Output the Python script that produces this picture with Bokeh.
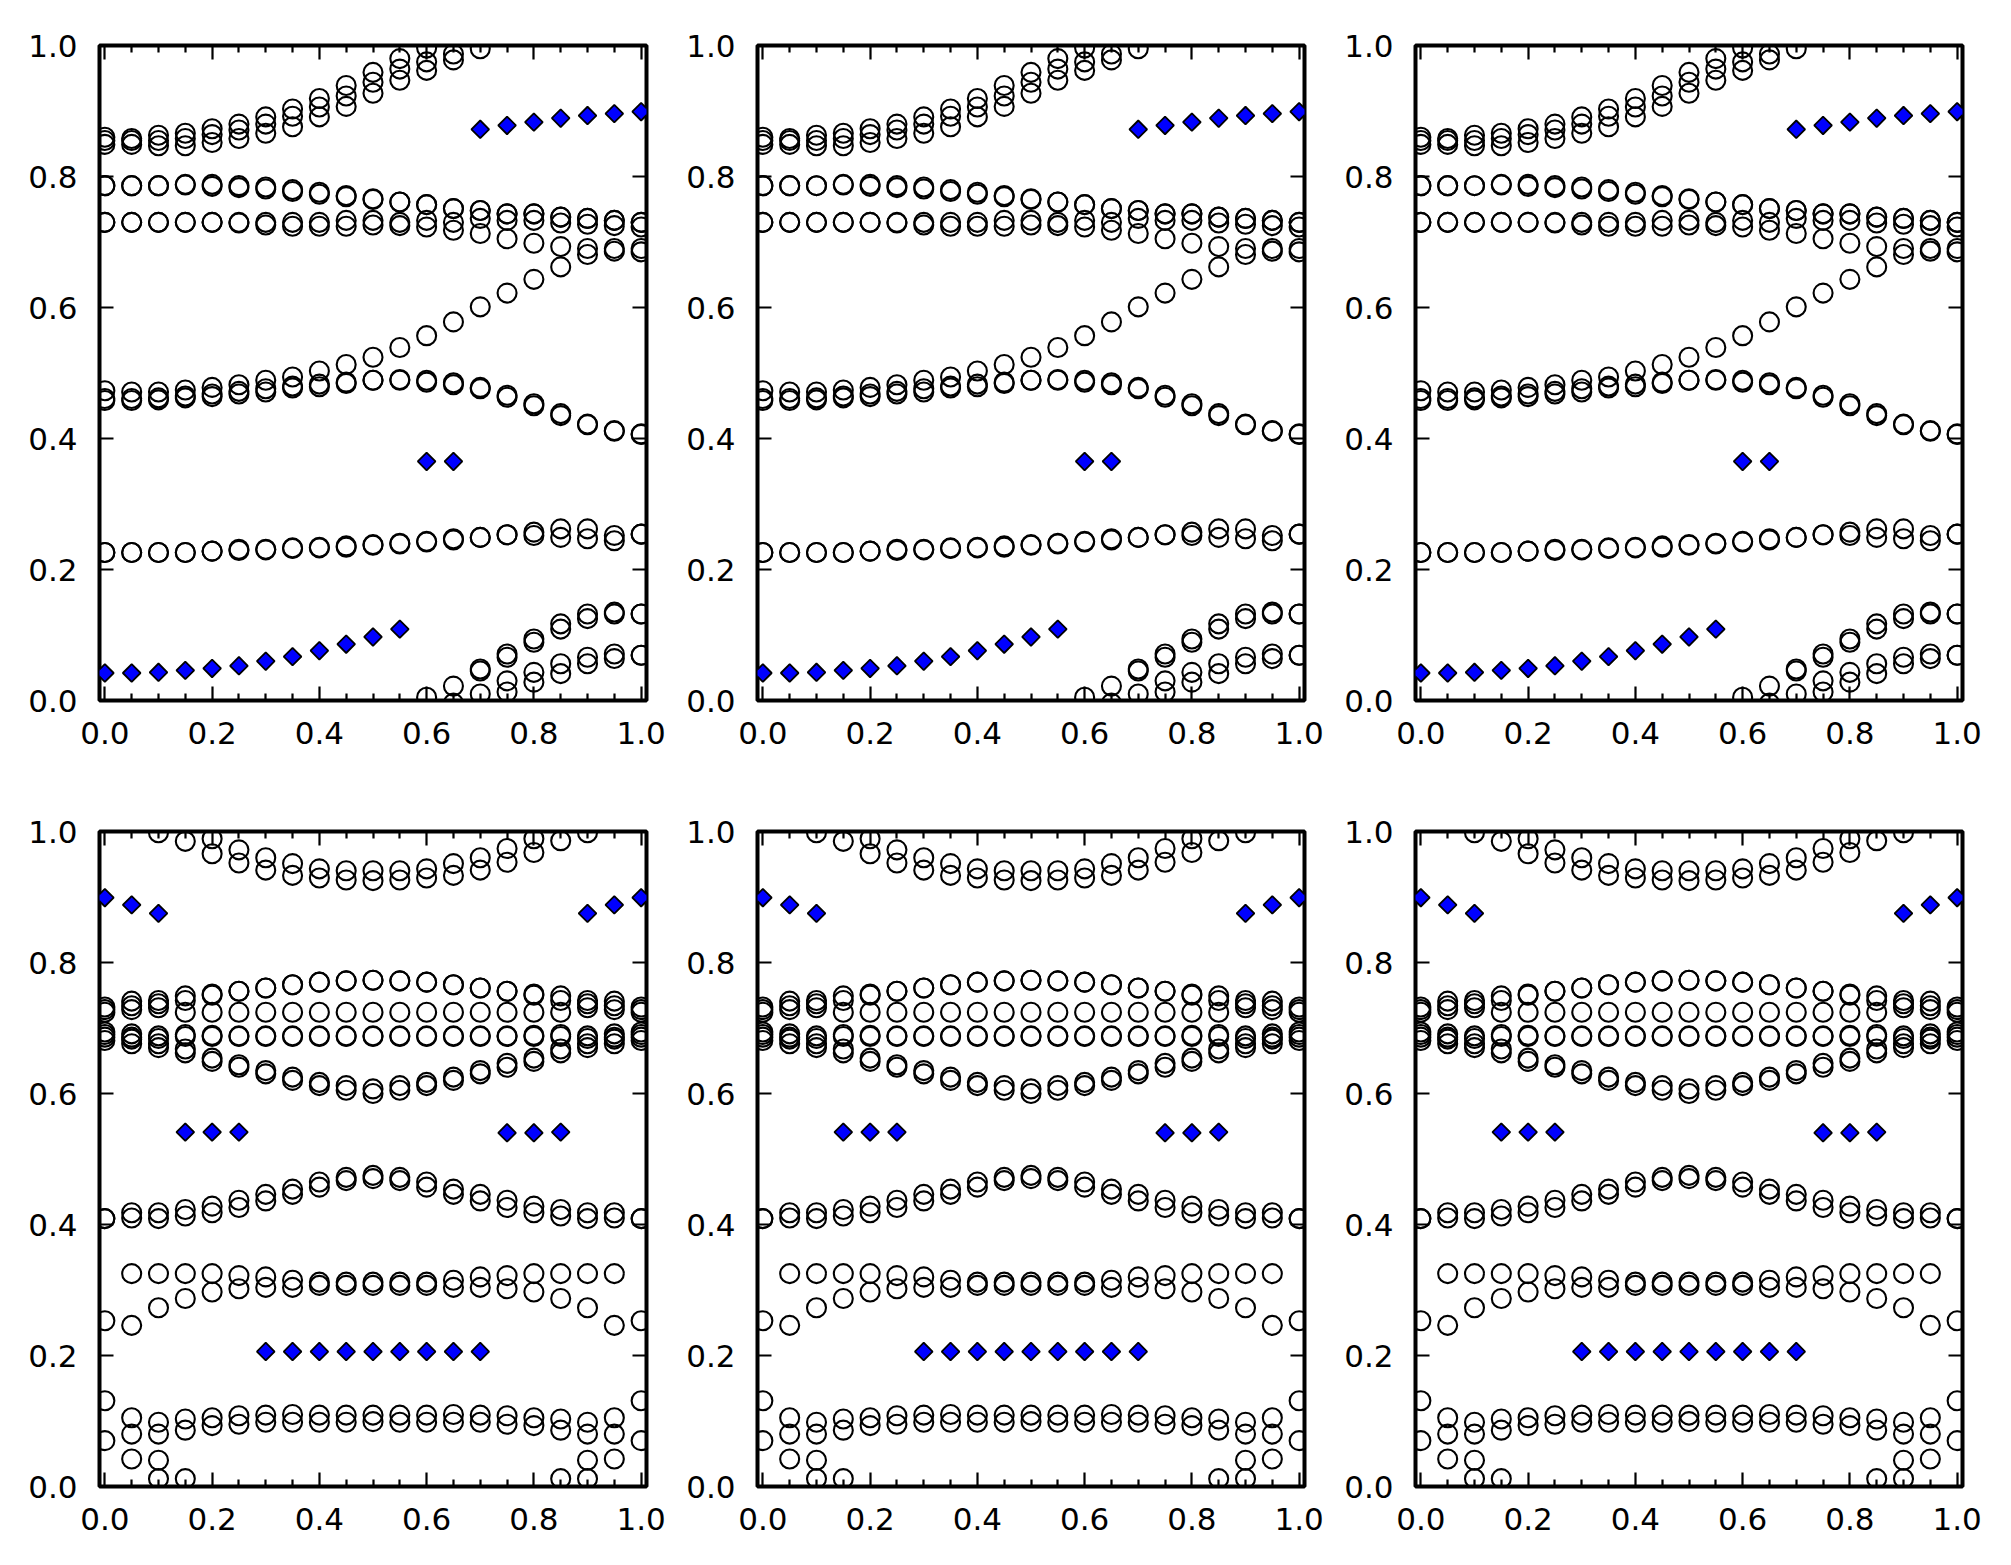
import math
from bokeh.plotting import figure
from bokeh.layouts import row, column
from bokeh.models import (FixedTicker, LinearAxis, PrintfTickFormatter, Range1d,
                          CustomLabelingPolicy)
from bokeh.embed import file_html
from bokeh.resources import INLINE

nan = float("nan")

# x positions of the scan (shared by every series)
XS = [0.0, 0.05, 0.1, 0.15, 0.2, 0.25, 0.3, 0.35, 0.4, 0.45, 0.5,
      0.55, 0.6, 0.65, 0.7, 0.75, 0.8, 0.85, 0.9, 0.95, 1.0]

# ---------------- top-row panels: open-circle series ----------------
top_a1 = [0.860, 0.858, 0.863, 0.866, 0.873, 0.880, 0.891, 0.903, 0.919, 0.939, 0.959,
          0.980, 0.996, nan, nan, nan, nan, nan, nan, nan, nan]
top_a2 = [0.855, 0.855, 0.855, 0.858, 0.864, 0.871, 0.880, 0.892, 0.906, 0.923, 0.944,
          0.964, 0.975, 0.987, nan, nan, nan, nan, nan, nan, nan]
top_a3 = [0.849, 0.849, 0.847, 0.847, 0.852, 0.858, 0.866, 0.876, 0.891, 0.907, 0.927,
          0.947, 0.962, 0.978, 0.995, nan, nan, nan, nan, nan, nan]
top_p = [0.786, 0.786, 0.786, 0.788, 0.788, 0.786, 0.784, 0.780, 0.776, 0.771, 0.766,
         0.761, 0.757, 0.751, 0.748, 0.743, 0.743, 0.738, 0.736, 0.733, 0.730]
top_q = [0.786, 0.786, 0.786, 0.787, 0.785, 0.783, 0.781, 0.777, 0.773, 0.769, 0.765,
         0.761, 0.757, 0.751, 0.748, 0.743, 0.743, 0.738, 0.736, 0.733, 0.730]
top_r1 = [0.730, 0.730, 0.730, 0.730, 0.730, 0.730, 0.730, 0.730, 0.730, 0.733, 0.733,
          0.730, 0.733, 0.730, 0.736, 0.733, 0.733, 0.729, 0.727, 0.725, 0.723]
top_r2 = [0.730, 0.730, 0.730, 0.730, 0.730, 0.729, 0.726, 0.724, 0.724, 0.724, 0.726,
          0.725, 0.723, 0.718, 0.713, 0.705, 0.698, 0.693, 0.690, 0.690, 0.690]
top_s = [0.473, 0.471, 0.471, 0.474, 0.478, 0.482, 0.489, 0.494, 0.503, 0.513, 0.524,
         0.539, 0.557, 0.578, 0.601, 0.622, 0.643, 0.662, 0.681, 0.686, 0.685]
top_t1 = [0.458, 0.458, 0.459, 0.462, 0.464, 0.468, 0.471, 0.477, 0.479, 0.484, 0.489,
          0.490, 0.489, 0.485, 0.478, 0.466, 0.453, 0.438, 0.422, 0.412, 0.407]
top_t2 = [0.461, 0.461, 0.462, 0.465, 0.468, 0.472, 0.476, 0.480, 0.483, 0.486, 0.489,
          0.489, 0.486, 0.482, 0.476, 0.463, 0.450, 0.435, 0.421, 0.411, 0.406]
top_u1 = [0.226, 0.226, 0.226, 0.226, 0.228, 0.229, 0.230, 0.232, 0.233, 0.234, 0.237,
          0.239, 0.242, 0.247, 0.249, 0.253, 0.257, 0.262, 0.262, 0.252, 0.254]
top_u2 = [0.226, 0.226, 0.226, 0.226, 0.228, 0.231, 0.231, 0.233, 0.234, 0.236, 0.238,
          0.240, 0.243, 0.245, 0.249, 0.253, 0.252, 0.249, 0.247, 0.244, 0.254]
top_v1 = [nan, nan, nan, nan, nan, nan, nan, nan, nan, nan, nan,
          nan, 0.005, 0.022, 0.048, 0.071, 0.094, 0.117, 0.132, 0.135, 0.132]
top_v2 = [nan, nan, nan, nan, nan, nan, nan, nan, nan, nan, nan,
          nan, nan, -0.004, 0.045, 0.066, 0.089, 0.109, 0.125, 0.132, 0.132]
top_w1 = [nan, nan, nan, nan, nan, nan, nan, nan, nan, nan, nan,
          nan, nan, nan, 0.010, 0.030, 0.043, 0.056, 0.066, 0.071, 0.069]
top_w2 = [nan, nan, nan, nan, nan, nan, nan, nan, nan, nan, nan,
          nan, nan, nan, nan, 0.013, 0.028, 0.041, 0.056, 0.064, 0.069]
# top-row panels: filled blue diamonds
top_diamond = [0.042, 0.042, 0.043, 0.046, 0.049, 0.053, 0.060, 0.067, 0.076, 0.086, 0.097,
               0.109, 0.365, 0.365, 0.872, 0.878, 0.883, 0.889, 0.893, 0.896, 0.899]

# ---------------- bottom-row panels: open-circle series ----------------
bot_b1 = [nan, nan, nan, nan, 0.989, 0.972, 0.960, 0.951, 0.943, 0.940, 0.940,
          0.940, 0.943, 0.951, 0.960, 0.974, 0.989, nan, nan, nan, nan]
bot_b2 = [nan, nan, 0.998, 0.985, 0.966, 0.952, 0.941, 0.933, 0.929, 0.926, 0.925,
          0.926, 0.929, 0.933, 0.941, 0.953, 0.968, 0.986, 0.998, nan, nan]
bot_c1 = [0.732, 0.741, 0.742, 0.749, 0.752, 0.756, 0.761, 0.766, 0.770, 0.772, 0.773,
          0.772, 0.770, 0.766, 0.761, 0.756, 0.752, 0.749, 0.742, 0.741, 0.732]
bot_c1b = [0.728, 0.734, 0.737, 0.742, 0.750, 0.756, 0.761, 0.766, 0.770, 0.772, 0.773,
           0.772, 0.770, 0.766, 0.761, 0.756, 0.750, 0.742, 0.737, 0.734, 0.728]
bot_c2 = [0.724, 0.728, 0.731, 0.724, 0.724, 0.724, 0.724, 0.724, 0.724, 0.724, 0.724,
          0.724, 0.724, 0.724, 0.724, 0.724, 0.724, 0.724, 0.731, 0.728, 0.724]
bot_d1 = [0.694, 0.691, 0.688, 0.690, 0.689, 0.688, 0.688, 0.688, 0.688, 0.688, 0.688,
          0.688, 0.688, 0.688, 0.688, 0.688, 0.689, 0.690, 0.688, 0.691, 0.694]
bot_d2 = [0.690, 0.686, 0.684, 0.687, 0.687, 0.687, 0.687, 0.687, 0.687, 0.687, 0.687,
          0.687, 0.687, 0.687, 0.687, 0.687, 0.687, 0.687, 0.684, 0.686, 0.690]
bot_e1 = [0.681, 0.676, 0.676, 0.668, 0.654, 0.644, 0.635, 0.625, 0.617, 0.612, 0.607,
          0.612, 0.617, 0.625, 0.635, 0.646, 0.654, 0.668, 0.676, 0.676, 0.681]
bot_e2 = [0.686, 0.683, 0.670, 0.662, 0.649, 0.640, 0.630, 0.620, 0.612, 0.605, 0.600,
          0.605, 0.612, 0.620, 0.630, 0.640, 0.649, 0.662, 0.670, 0.683, 0.686]
bot_f1 = [0.409, 0.418, 0.418, 0.423, 0.428, 0.437, 0.446, 0.454, 0.465, 0.472, 0.475,
          0.472, 0.465, 0.454, 0.446, 0.437, 0.428, 0.423, 0.418, 0.418, 0.409]
bot_f2 = [0.409, 0.410, 0.409, 0.413, 0.418, 0.426, 0.436, 0.446, 0.457, 0.467, 0.470,
          0.467, 0.457, 0.446, 0.436, 0.426, 0.418, 0.413, 0.409, 0.410, 0.409]
bot_g1 = [nan, 0.325, 0.325, 0.325, 0.325, 0.322, 0.320, 0.315, 0.312, 0.312, 0.312,
          0.312, 0.312, 0.315, 0.320, 0.322, 0.325, 0.325, 0.325, 0.325, nan]
bot_g2 = [0.253, 0.246, 0.273, 0.287, 0.297, 0.302, 0.304, 0.304, 0.307, 0.307, 0.307,
          0.307, 0.307, 0.304, 0.304, 0.302, 0.297, 0.287, 0.273, 0.246, 0.253]
bot_h1 = [0.131, 0.105, 0.098, 0.103, 0.105, 0.108, 0.109, 0.110, 0.109, 0.109, 0.109,
          0.109, 0.109, 0.110, 0.109, 0.108, 0.105, 0.103, 0.098, 0.105, 0.131]
bot_h2 = [0.070, 0.080, 0.080, 0.086, 0.093, 0.095, 0.098, 0.098, 0.098, 0.098, 0.099,
          0.098, 0.098, 0.098, 0.098, 0.095, 0.093, 0.086, 0.080, 0.080, 0.070]
bot_h3 = [nan, 0.042, 0.040, nan, nan, nan, nan, nan, nan, nan, nan,
          nan, nan, nan, nan, nan, nan, nan, 0.040, 0.042, nan]
bot_h4 = [nan, nan, 0.012, 0.012, nan, nan, nan, nan, nan, nan, nan,
          nan, nan, nan, nan, nan, nan, 0.012, 0.012, nan, nan]
# bottom-row panels: filled blue diamonds
bot_diamond = [0.899, 0.888, 0.875, 0.541, 0.541, 0.541, 0.206, 0.206, 0.206, 0.206, 0.206,
               0.206, 0.206, 0.206, 0.206, 0.540, 0.540, 0.541, 0.875, 0.888, 0.899]

X_TICKS = [0.0, 0.2, 0.4, 0.6, 0.8, 1.0]
X_MINOR = [0.05, 0.1, 0.15, 0.25, 0.3, 0.35, 0.45, 0.5, 0.55, 0.65, 0.7, 0.75, 0.85, 0.9, 0.95]
Y_TICKS = [0.0, 0.2, 0.4, 0.6, 0.8, 1.0]

TOP_SERIES = [top_a1, top_a2, top_a3, top_p, top_q, top_r1, top_r2, top_s, top_t1,
              top_t2, top_u1, top_u2, top_v1, top_v2, top_w1, top_w2]
BOT_SERIES = [bot_b1, bot_b2, bot_c1, bot_c1b, bot_c2, bot_d1, bot_d2, bot_e1, bot_e2,
              bot_f1, bot_f2, bot_g1, bot_g2, bot_h1, bot_h2, bot_h3, bot_h4]

FONT = "DejaVu Sans"
LABEL_SIZE = "31px"


def style_axis(ax, is_x, show_labels):
    ax.ticker = FixedTicker(ticks=X_TICKS if is_x else Y_TICKS,
                            minor_ticks=X_MINOR if is_x else [])
    ax.formatter = PrintfTickFormatter(format="%.1f")
    ax.axis_line_color = None
    ax.major_tick_in = 14
    ax.major_tick_out = 0
    ax.minor_tick_in = 7
    ax.minor_tick_out = 0
    ax.major_tick_line_width = 2.2
    ax.minor_tick_line_width = 2.2
    ax.major_tick_line_color = "black"
    ax.minor_tick_line_color = "black"
    ax.major_label_text_font = FONT
    ax.major_label_text_color = "black"
    if show_labels:
        ax.major_label_text_font_size = LABEL_SIZE
        ax.major_label_standoff = 21 if is_x else 22
    else:
        # mirrored tick-only axis (top / right): draw no labels at all
        ax.major_label_policy = CustomLabelingPolicy(code="return new Set()")
        ax.major_label_text_font_size = "0px"
        ax.major_label_standoff = 0


def make_panel(series, diamonds, width, height, left_border, top_border, bottom_border):
    p = figure(width=width, height=height,
               x_range=Range1d(-0.01, 1.01), y_range=Range1d(0.0, 1.0),
               output_backend="svg", toolbar_location=None,
               min_border_left=left_border, min_border_right=20,
               min_border_top=top_border, min_border_bottom=bottom_border)
    p.xgrid.visible = False
    p.ygrid.visible = False
    p.background_fill_color = "white"
    p.border_fill_color = "white"
    p.outline_line_color = "black"
    p.outline_line_width = 4

    style_axis(p.xaxis[0], True, True)
    style_axis(p.yaxis[0], False, True)
    top_ax = LinearAxis()
    right_ax = LinearAxis()
    p.add_layout(top_ax, "above")
    p.add_layout(right_ax, "right")
    style_axis(top_ax, True, False)
    style_axis(right_ax, False, False)

    for ys in series:
        p.scatter(x=XS, y=ys, marker="circle", size=19,
                  fill_color=None, line_color="black", line_width=2.1)
    p.scatter(x=XS, y=diamonds, marker="square", angle=math.pi / 4, size=12.5,
              fill_color="#0000ff", line_color="black", line_width=1.8)
    return p


# frame: 547 x 655 px; the page has no margin of its own, so the first
# column / row carries 8px more border
def panels(series, diamonds, first_row):
    top = 45 if first_row else 37
    height = (45 + 655 + 94) if first_row else (37 + 655 + 70)
    bottom = 94 if first_row else 70
    figs = []
    for i in range(3):
        left = 99 if i == 0 else 91
        width = left + 547 + 20
        figs.append(make_panel(series, diamonds, width, height, left, top, bottom))
    return figs


row1 = row(*panels(TOP_SERIES, top_diamond, True))
row2 = row(*panels(BOT_SERIES, bot_diamond, False))
layout = column(row1, row2)

open("out.html", "w").write(file_html(layout, INLINE))
